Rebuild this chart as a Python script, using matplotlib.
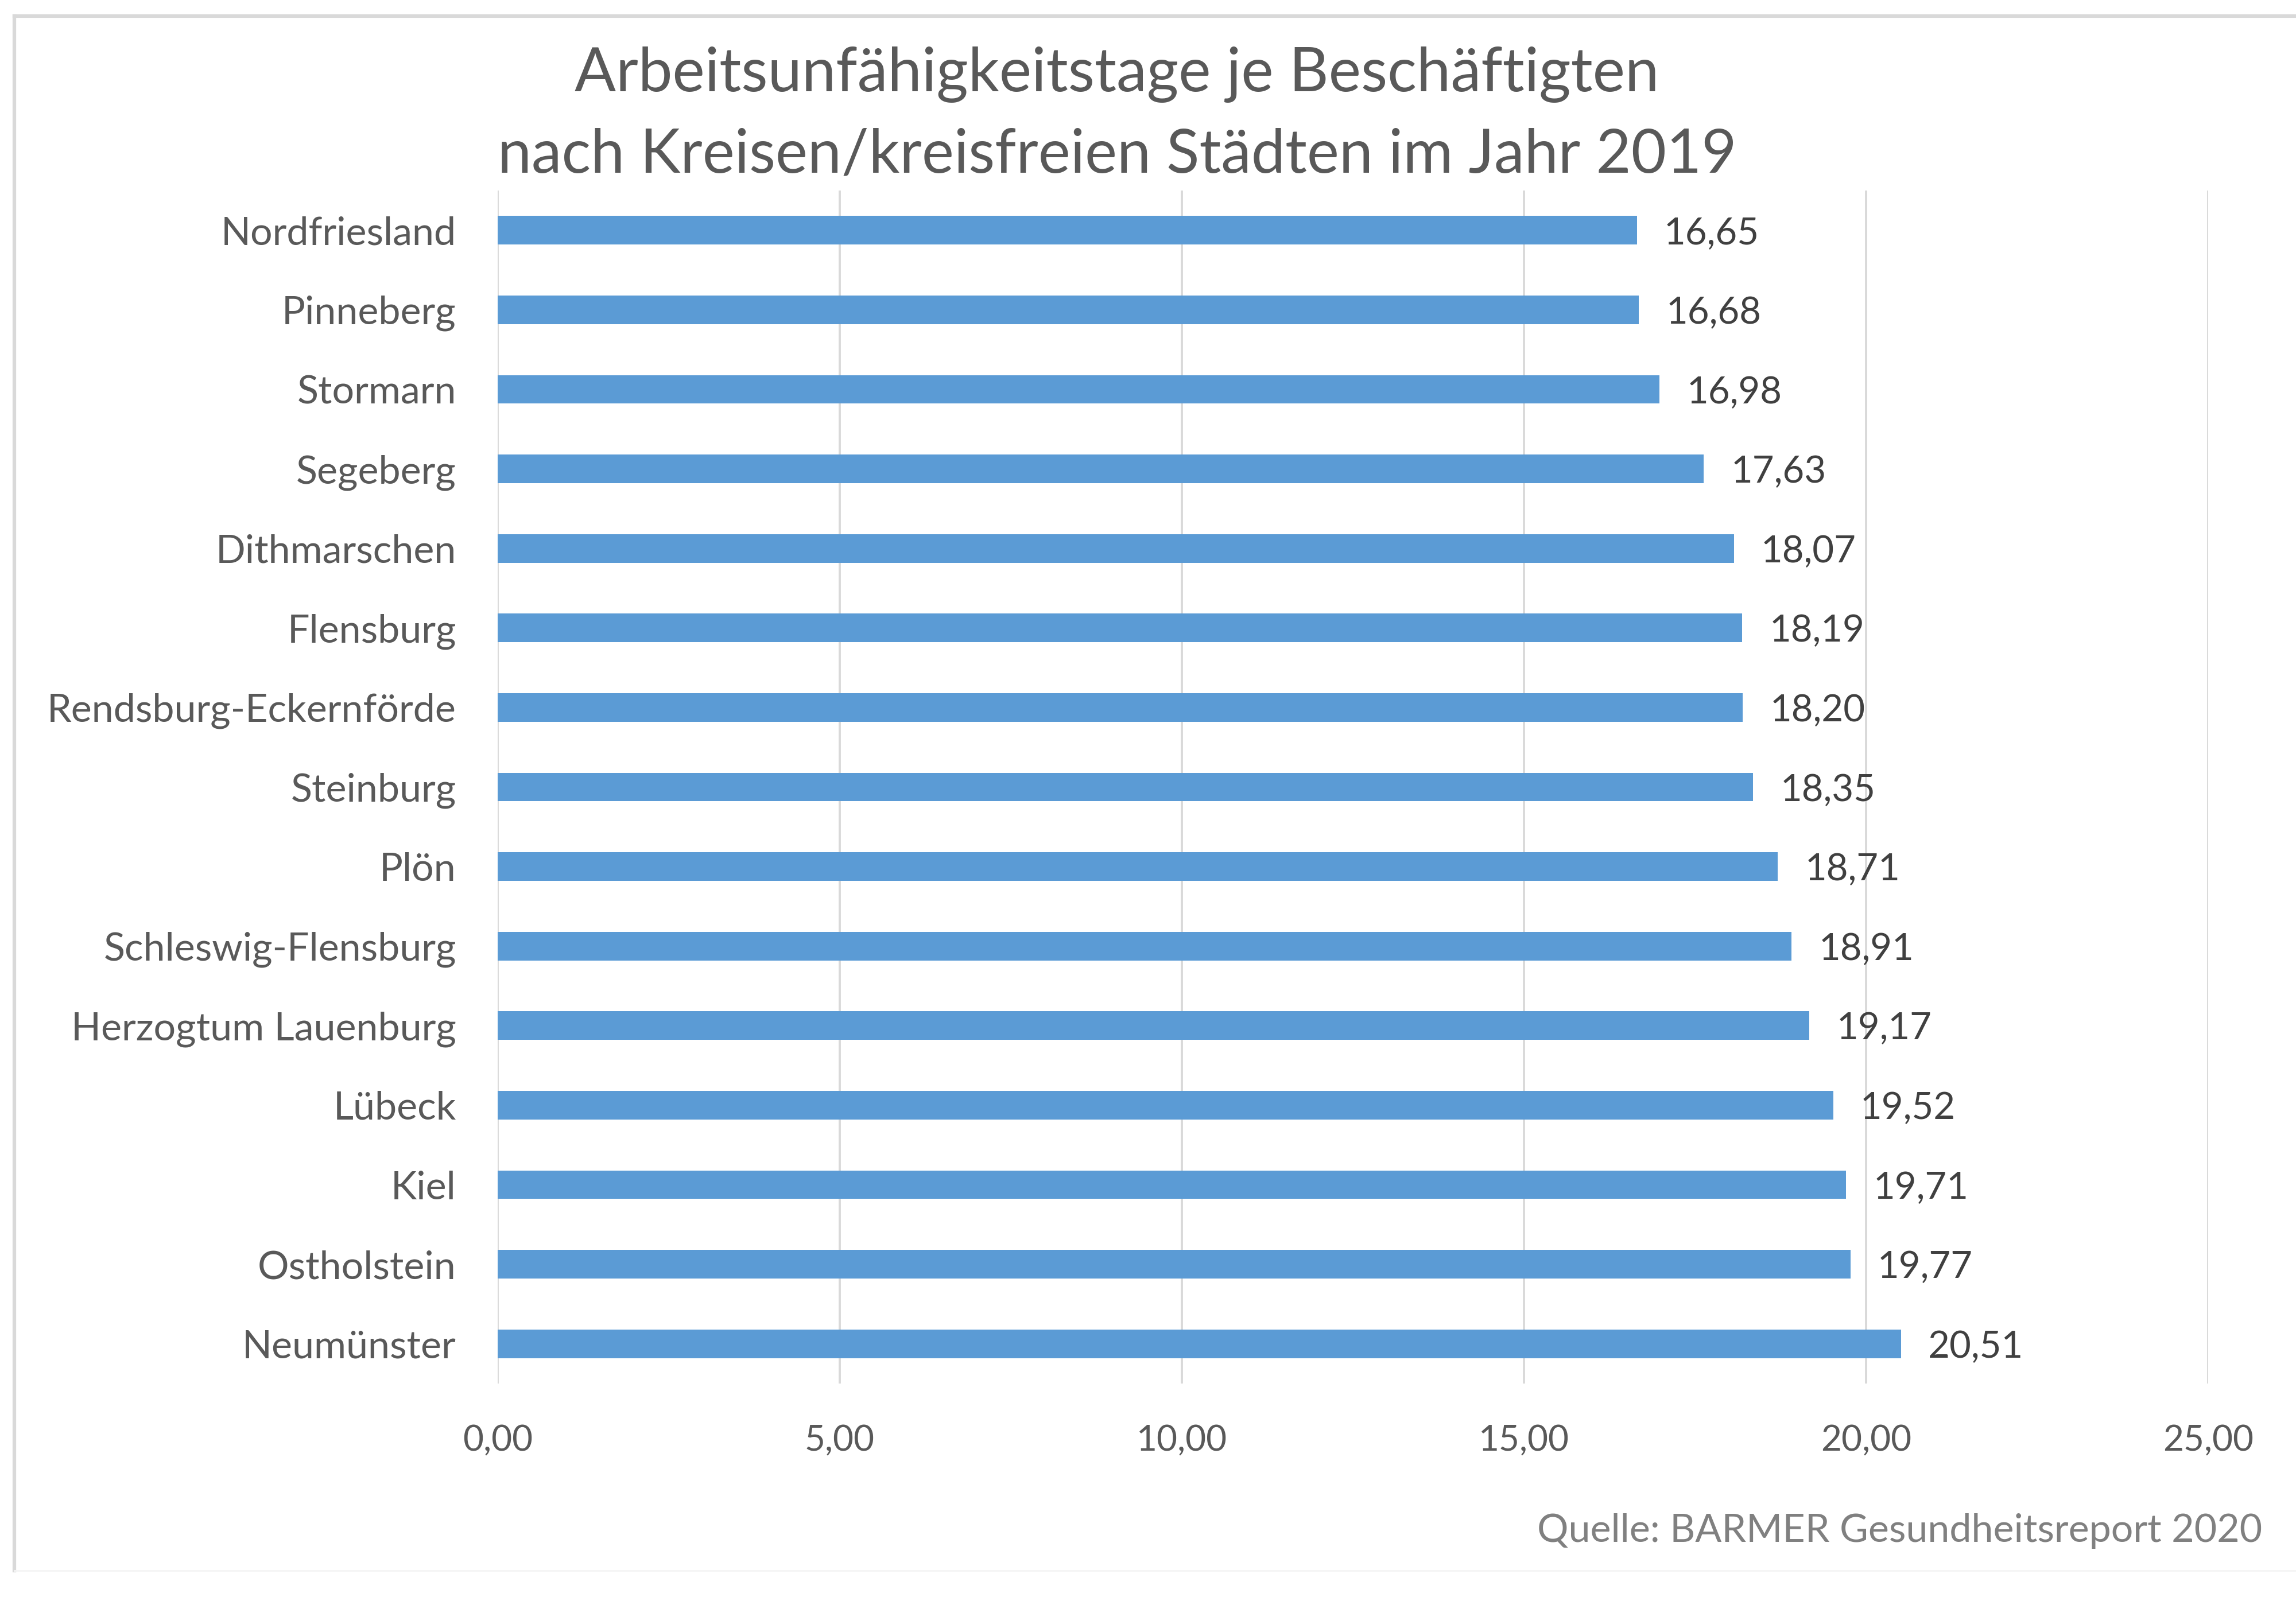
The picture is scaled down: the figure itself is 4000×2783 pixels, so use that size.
import matplotlib
matplotlib.use('Agg')
import matplotlib.pyplot as plt
from matplotlib.lines import Line2D
import numpy as np

# data, top to bottom as in the chart
kreise = ['Nordfriesland', 'Pinneberg', 'Stormarn', 'Segeberg', 'Dithmarschen',
          'Flensburg', 'Rendsburg-Eckernförde', 'Steinburg', 'Plön',
          'Schleswig-Flensburg', 'Herzogtum Lauenburg', 'Lübeck', 'Kiel',
          'Ostholstein', 'Neumünster']
au_tage = [16.65, 16.68, 16.98, 17.63, 18.07, 18.19, 18.20, 18.35, 18.71,
           18.91, 19.17, 19.52, 19.71, 19.77, 20.51]
x_ticks = [0, 5, 10, 15, 20, 25]

title_1 = 'Arbeitsunfähigkeitstage je Beschäftigten'
title_2 = 'nach Kreisen/kreisfreien Städten im Jahr 2019'
quelle = 'Quelle: BARMER Gesundheitsreport 2020'

BLUE = '#5B9BD5'
GRID = '#D9D9D9'
TXT = '#595959'
VAL = '#404040'
SRC = '#808080'

W, H = 4000, 2783
plt.rcParams['font.family'] = ['Lato', 'DejaVu Sans']

fig = plt.figure(figsize=(W / 100, H / 100), dpi=100)
fig.patch.set_facecolor('white')

# chart frame (left, top, faint bottom)
fig.add_artist(Line2D([25 / W, 25 / W], [1 - 2737 / H, 1 - 28 / H],
                      color=GRID, lw=4.5, transform=fig.transFigure))
fig.add_artist(Line2D([25 / W, 1.0], [1 - 28 / H, 1 - 28 / H],
                      color=GRID, lw=4.5, transform=fig.transFigure))
fig.add_artist(Line2D([25 / W, 1.0], [1 - 2737 / H, 1 - 2737 / H],
                      color='#F4F4F4', lw=2, transform=fig.transFigure))

ax = fig.add_axes([867 / W, 1 - 2411 / H, (3847 - 867) / W, (2411 - 332) / H])
y = np.arange(len(kreise))
ax.barh(y, au_tage, height=0.36, color=BLUE, zorder=3)
ax.set_ylim(len(kreise) - 0.5, -0.5)
ax.set_xlim(x_ticks[0], x_ticks[-1])
ax.set_xticks(x_ticks)
ax.set_xticklabels([f'{t:.2f}'.replace('.', ',') for t in x_ticks])
ax.set_yticks(y)
ax.set_yticklabels(kreise)
for s in ax.spines.values():
    s.set_visible(False)
ax.grid(axis='x', color=GRID, lw=2.8, zorder=0)
ax.tick_params(axis='both', length=0, colors=TXT)
ax.tick_params(axis='x', pad=51, labelsize=46)
ax.tick_params(axis='y', pad=52, labelsize=46)

labels = []
for yi, v in zip(y, au_tage):
    t = ax.annotate(f'{v:.2f}'.replace('.', ','), (v, yi), xytext=(34, -4),
                    textcoords='offset points', ha='left', va='center',
                    fontsize=46, color=VAL)
    labels.append(t)

t1 = fig.text(1946 / W, 1 - 130 / H, title_1, ha='center', va='center',
              fontsize=70, color=TXT)
t2 = fig.text(1946 / W, 1 - 271 / H, title_2, ha='center', va='center',
              fontsize=70, color=TXT)
ts = fig.text(3941 / W, 1 - 2668 / H, quelle, ha='right', va='center',
              fontsize=44, color=SRC)

# fit font sizes to widths measured on the reference
fig.canvas.draw()
r = fig.canvas.get_renderer()


def fit(t, target):
    w = t.get_window_extent(r).width
    t.set_fontsize(t.get_fontsize() * target / w)


fit(t1, 1890)
fit(t2, 2158)
fit(ts, 1263)
ylab = ax.get_yticklabels()[kreise.index('Rendsburg-Eckernförde')]
ysize = 46 * 712 / ylab.get_window_extent(r).width
ax.tick_params(axis='y', labelsize=ysize)
xlab = ax.get_xticklabels()[2]
xsize = 46 * 158 / xlab.get_window_extent(r).width
ax.tick_params(axis='x', labelsize=xsize)
vsize = 46 * 166 / labels[-1].get_window_extent(r).width
for t in labels:
    t.set_fontsize(vsize)

fig.savefig('out.png', dpi=100, facecolor='white')
